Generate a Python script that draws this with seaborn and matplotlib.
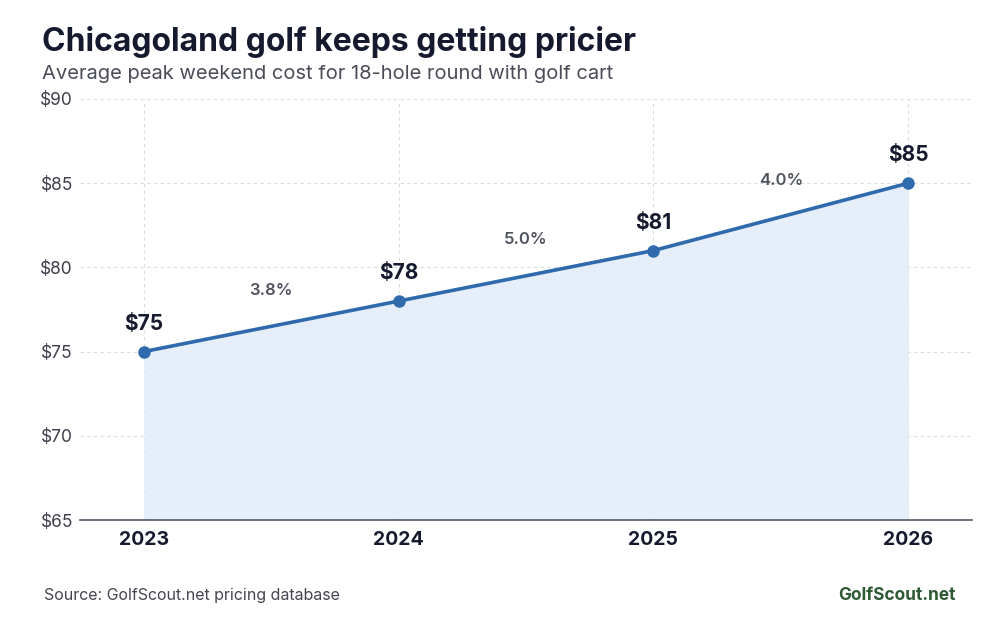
import matplotlib.pyplot as plt
import seaborn as sns
import pandas as pd

years = ["2023", "2024", "2025", "2026"]
prices = [75, 78, 81, 85]
pct_labels = ["3.8%", "5.0%", "4.0%"]
y_ticks = [65, 70, 75, 80, 85, 90]

LINE = "#2f6aad"
FILL = "#e4eef9"
DARK = "#161a2e"
GREY = "#3d3f4a"

sns.set_theme(style="white")
plt.rcParams["font.family"] = ["Inter", "DejaVu Sans"]

df = pd.DataFrame({"x": range(len(years)), "price": prices})

fig = plt.figure(figsize=(10, 6.21), dpi=100)
ax = fig.add_axes([0.08, 0.1626, 0.892, 0.678])

ax.fill_between(df["x"], df["price"], 65, color=FILL, alpha=0.9, lw=0, zorder=1)
sns.lineplot(data=df, x="x", y="price", ax=ax, color=LINE, lw=2.6,
             marker="o", markersize=9, markeredgewidth=0, zorder=3)

for xi, p in zip(df["x"], prices):
    ax.annotate(f"${p}", (xi, p), xytext=(0, 13), textcoords="offset points",
                ha="center", va="bottom", fontsize=15, fontweight="bold", color=DARK)

for i, lab in enumerate(pct_labels):
    xm = (df["x"][i] + df["x"][i + 1]) / 2
    ym = (prices[i] + prices[i + 1]) / 2
    ax.annotate(lab, (xm, ym), xytext=(0, 26), textcoords="offset points",
                ha="center", va="center", fontsize=12, fontweight="semibold", color="#50535e")

ax.set_xlim(-0.25, 3.25)
ax.set_ylim(65, 90)
ax.set_xticks(range(len(years)))
ax.set_xticklabels(years, fontsize=14, fontweight="bold", color=DARK)
ax.set_yticks(y_ticks)
ax.set_yticklabels([f"${t}" for t in y_ticks], fontsize=12.5, color=GREY)
ax.tick_params(axis="both", length=0, pad=8)
ax.tick_params(axis="y", pad=5)
ax.set_xlabel("")
ax.set_ylabel("")
ax.grid(True, color="#d8dbe0", linestyle=(0, (3, 3)), lw=0.8)
for s in ["top", "right", "left"]:
    ax.spines[s].set_visible(False)
ax.spines["bottom"].set_color("#555866")
ax.spines["bottom"].set_linewidth(1.2)

fig.text(0.042, 0.932, "Chicagoland golf keeps getting pricier", fontsize=23,
         fontweight="bold", color=DARK, va="center")
fig.text(0.042, 0.881, "Average peak weekend cost for 18-hole round with golf cart",
         fontsize=14.5, color="#4a4c58", va="center")
fig.text(0.044, 0.041, "Source: GolfScout.net pricing database", fontsize=11.5,
         color="#444651", va="center")
fig.text(0.956, 0.041, "GolfScout.net", fontsize=12.5, fontweight="bold",
         color="#2d5a34", va="center", ha="right")

fig.savefig("out.png", dpi=100, facecolor="white")
